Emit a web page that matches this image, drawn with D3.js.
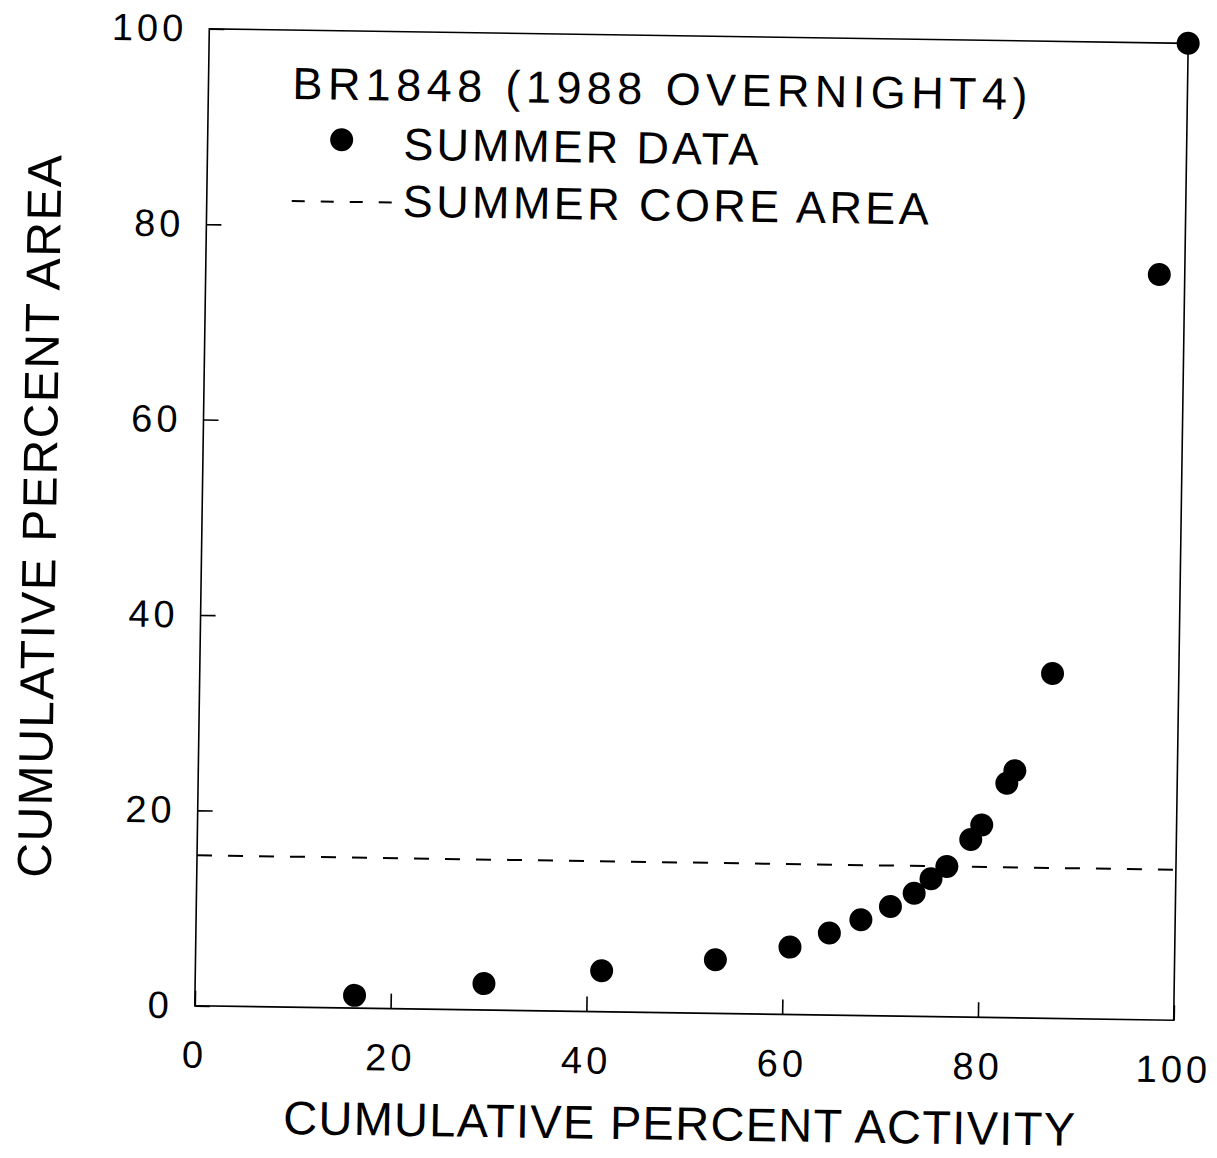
<!DOCTYPE html>
<html>
<head>
<meta charset="utf-8">
<script src="https://cdn.jsdelivr.net/npm/d3@7"></script>
<style>
  html, body { margin: 0; padding: 0; background: #fff; }
  svg { display: block; }
  text { font-family: "Liberation Sans", Arial, sans-serif; fill: #000; }
</style>
</head>
<body>
<svg id="chart" width="1217" height="1158"></svg>
<script>
// Cumulative percent activity vs cumulative percent area, summer data
const activity = [16.3, 29.5, 41.5, 53.1, 60.7, 64.7, 67.9, 70.9, 73.3, 75.0, 76.6, 79.0, 80.1, 82.6, 83.4, 87.1, 97.4, 100];
const area     = [1.3, 2.7, 4.2, 5.5, 6.9, 8.4, 9.8, 11.2, 12.6, 14.1, 15.4, 18.2, 19.7, 24.0, 25.3, 35.3, 76.3, 100];
const coreArea = 15.4;
const xTicks = [0, 20, 40, 60, 80, 100];
const yTicks = [0, 20, 40, 60, 80, 100];
const titleText = "BR1848 (1988 OVERNIGHT4)";
const legendLabels = ["SUMMER DATA", "SUMMER CORE AREA"];
const xTitle = "CUMULATIVE PERCENT ACTIVITY";
const yTitle = "CUMULATIVE PERCENT AREA";

const svg = d3.select("#chart");
svg.append("rect").attr("width", 1217).attr("height", 1158).attr("fill", "#fff");

const plotLeft = 202, plotTop = 36, plotWidth = 979, plotHeight = 977;

// whole sheet sits slightly askew on the page
const sheet = svg.append("g").attr("transform", "rotate(0.85 690 524)");

const x = d3.scaleLinear().domain([0, 100]).range([plotLeft, plotLeft + plotWidth]);
const y = d3.scaleLinear().domain([0, 100]).range([plotTop + plotHeight, plotTop]);

// plot frame
sheet.append("rect")
  .attr("x", plotLeft).attr("y", plotTop)
  .attr("width", plotWidth).attr("height", plotHeight)
  .attr("fill", "none").attr("stroke", "#000").attr("stroke-width", 1.6);

// axes with inward ticks
const xAxis = d3.axisBottom(x).tickValues(xTicks).tickFormat(d3.format("d"))
  .tickSizeInner(-15).tickSizeOuter(0).tickPadding(35);
const yAxis = d3.axisLeft(y).tickValues(yTicks).tickFormat(d3.format("d"))
  .tickSizeInner(-15).tickSizeOuter(0).tickPadding(22);

const gx = sheet.append("g").attr("transform", `translate(0,${plotTop + plotHeight})`).call(xAxis);
const gy = sheet.append("g").attr("transform", `translate(${plotLeft},0)`).call(yAxis);

[gx, gy].forEach(g => {
  g.select(".domain").remove();
  g.selectAll(".tick line").attr("stroke", "#000").attr("stroke-width", 1.6);
  g.selectAll(".tick text")
    .attr("font-family", "Liberation Sans, Arial, sans-serif")
    .attr("font-size", 38)
    .attr("letter-spacing", 4)
    .attr("fill", "#000");
});
gx.selectAll(".tick text").attr("dx", 0);

// core area reference line
sheet.append("line")
  .attr("x1", x(0)).attr("x2", x(100))
  .attr("y1", y(coreArea)).attr("y2", y(coreArea))
  .attr("stroke", "#000").attr("stroke-width", 2)
  .attr("stroke-dasharray", "15,16");

// data points
sheet.append("g").selectAll("circle")
  .data(activity.map((a, i) => [a, area[i]]))
  .join("circle")
  .attr("cx", d => x(d[0]))
  .attr("cy", d => y(d[1]))
  .attr("r", 11.5)
  .attr("fill", "#000");

// title and legend
sheet.append("text")
  .attr("x", 286).attr("y", 105)
  .attr("font-size", 45)
  .attr("textLength", 735).attr("lengthAdjust", "spacing")
  .text(titleText);

sheet.append("circle").attr("cx", 336).attr("cy", 145).attr("r", 11.5).attr("fill", "#000");
sheet.append("text")
  .attr("x", 398).attr("y", 164)
  .attr("font-size", 45)
  .attr("textLength", 355).attr("lengthAdjust", "spacing")
  .text(legendLabels[0]);

sheet.append("line")
  .attr("x1", 287).attr("x2", 390)
  .attr("y1", 207).attr("y2", 207)
  .attr("stroke", "#000").attr("stroke-width", 2)
  .attr("stroke-dasharray", "13,16");
sheet.append("text")
  .attr("x", 398).attr("y", 221)
  .attr("font-size", 45)
  .attr("textLength", 526).attr("lengthAdjust", "spacing")
  .text(legendLabels[1]);

// axis titles
sheet.append("text")
  .attr("x", 688).attr("y", 1140)
  .attr("text-anchor", "middle")
  .attr("font-size", 47)
  .attr("textLength", 792).attr("lengthAdjust", "spacing")
  .text(xTitle);

sheet.append("text")
  .attr("transform", "translate(56,526) rotate(-90)")
  .attr("text-anchor", "middle")
  .attr("font-size", 48)
  .attr("textLength", 723).attr("lengthAdjust", "spacing")
  .text(yTitle);
</script>
</body>
</html>
